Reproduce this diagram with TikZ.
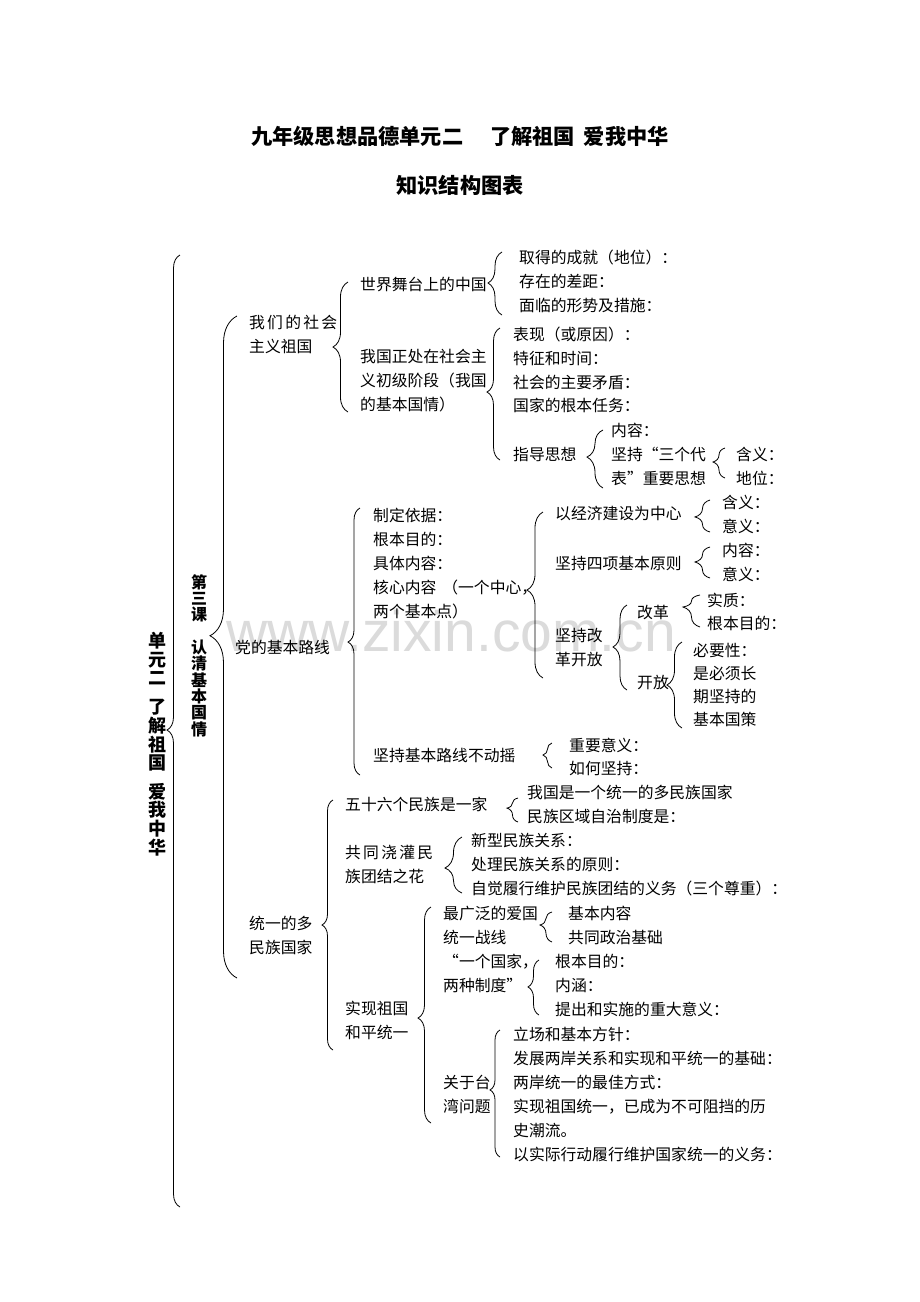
\documentclass[tikz,border=0pt]{standalone}
\usepackage{fontspec}
\setmainfont{Noto Sans CJK SC}
\newfontfamily\wmfont{Liberation Sans}
\usetikzlibrary{decorations.pathreplacing}
\tikzset{
  t/.style={anchor=west, inner sep=0pt, align=left, font=\fontsize{15.8}{24}\selectfont},
  ttl/.style={anchor=center, inner sep=0pt, font=\bfseries\fontsize{21.2}{24}\selectfont},
  vt/.style={anchor=center, inner sep=0pt, align=center, font=\bfseries\fontsize{18}{18.6}\selectfont},
  vtb/.style={anchor=center, inner sep=0pt, align=center, font=\bfseries\fontsize{16}{16.4}\selectfont},
  br/.style={decorate, line width=0.8pt},
  wm/.style={anchor=base, inner sep=0pt, text=black!14, font=\wmfont\fontsize{57}{60}\selectfont}
}
% xend, ytop, ybottom, amplitude, aspect (from bottom)
\newcommand\brc[5]{\draw[br, decoration={brace, amplitude=#4pt, aspect=#5}] (#1,#3) -- (#1,#2);}
\newcommand\oq{\makebox[1em][r]{“}}
\newcommand\cq{\makebox[1em][l]{”}}
\begin{document}
\begin{tikzpicture}[x=1pt,y=-1pt]
\fill[white] (0,0) rectangle (920,1302);
\useasboundingbox (0,0) rectangle (920,1302);

% watermark
\node[wm] (wmk) at (451,651) {www.zixin.com.cn};

% titles
\node[ttl] (t1) at (460,136) {九年级思想品德单元二\hspace{27pt}了解祖国\hspace{9pt}爱我中华};
\node[ttl] (t2) at (460,185) {知识结构图表};

% vertical titles
\node[vt] (v1) at (157,744) {单\\元\\二\\[10.5pt]了\\解\\祖\\国\\[10pt]爱\\我\\中\\华};
\node[vtb] (v2) at (199,655.5) {第\\三\\课\\[16pt]认\\清\\基\\本\\国\\情};

% braces
\brc{180}{255}{1207}{13}{0.501}
\brc{237}{316}{978}{27}{0.517}
\brc{348}{282}{412}{15}{0.5}
\brc{502}{252}{315}{14}{0.508}
\brc{500}{328}{460}{13}{0.515}
\brc{603}{430}{488}{16}{0.534}
\brc{725}{448}{478}{12}{0.533}
\brc{360}{508}{775}{12}{0.498}
\brc{543}{512}{678}{16}{0.53}
\brc{710}{500}{532}{15}{0.47}
\brc{710}{547}{578}{15}{0.516}
\brc{627}{605}{690}{14}{0.506}
\brc{700}{595}{627}{17}{0.625}
\brc{682}{642}{728}{15}{0.5}
\brc{552}{743}{768}{9}{0.52}
\brc{333}{800}{1050}{11}{0.5}
\brc{518}{798}{822}{11}{0.58}
\brc{462}{837}{893}{17}{0.446}
\brc{431}{907}{1123}{13}{0.486}
\brc{552}{912}{942}{12}{0.567}
\brc{539}{960}{1015}{11}{0.51}
\brc{500}{1030}{1157}{10}{0.528}

% section A
\node[t] (a0) at (249,334) {\makebox[88pt][s]{我\hfill 们\hfill 的\hfill 社\hfill 会}\\主义祖国};
\node[t] (a1) at (360,285) {世界舞台上的中国};
\node[t] (a11) at (519,257) {取得的成就（地位）：};
\node[t] (a12) at (519,281) {存在的差距：};
\node[t] (a13) at (519,305) {面临的形势及措施：};
\node[t] (a2) at (360,381) {我国正处在社会主\\义初级阶段（我国\\的基本国情）};
\node[t] (a21) at (513,334) {表现（或原因）：};
\node[t] (a22) at (513,358) {特征和时间：};
\node[t] (a23) at (513,382) {社会的主要矛盾：};
\node[t] (a24) at (513,405) {国家的根本任务：};
\node[t] (a25) at (513,454) {指导思想};
\node[t] (a31) at (611,430) {内容：};
\node[t] (a32) at (611,466) {坚持\oq 三个代\\表\cq 重要思想};
\node[t] (a41) at (736,454) {含义：};
\node[t] (a42) at (736,478) {地位：};

% section B
\node[t] (b0) at (235,647) {党的基本路线};
\node[t] (b1) at (373,515) {制定依据：};
\node[t] (b2) at (373,539) {根本目的：};
\node[t] (b3) at (373,563) {具体内容：};
\node[t] (b4) at (373,599) {核心内容\hspace{6pt}（一个中心，\\两个基本点）};
\node[t] (b5) at (373,755) {坚持基本路线不动摇};
\node[t] (b11) at (555,514) {以经济建设为中心};
\node[t] (b12) at (555,563) {坚持四项基本原则};
\node[t] (b13) at (555,647.5) {坚持改\\革开放};
\node[t] (b21) at (722,502) {含义：};
\node[t] (b22) at (722,526) {意义：};
\node[t] (b31) at (722,550) {内容：};
\node[t] (b32) at (722,574) {意义：};
\node[t] (b41) at (637,613) {改革};
\node[t] (b42) at (637,683) {开放};
\node[t] (b51) at (707,600) {实质：};
\node[t] (b52) at (707,623) {根本目的：};
\node[t, font=\fontsize{15.8}{23.3}\selectfont] (b61) at (693,685) {必要性：\\是必须长\\期坚持的\\基本国策};
\node[t] (b71) at (569,745) {重要意义：};
\node[t] (b72) at (569,768) {如何坚持：};

% section C
\node[t] (c0) at (249,935.5) {统一的多\\民族国家};
\node[t] (c1) at (345,804) {五十六个民族是一家};
\node[t] (c2) at (345,864) {\makebox[88pt][s]{共\hfill 同\hfill 浇\hfill 灌\hfill 民}\\族团结之花};
\node[t] (c3) at (345,1020) {实现祖国\\和平统一};
\node[t] (c11) at (527,792) {我国是一个统一的多民族国家};
\node[t] (c12) at (527,816) {民族区域自治制度是：};
\node[t] (c21) at (471,840) {新型民族关系：};
\node[t] (c22) at (471,864) {处理民族关系的原则：};
\node[t] (c23) at (471,888) {自觉履行维护民族团结的义务（三个尊重）：};
\node[t] (c31) at (443,925) {最广泛的爱国\\统一战线};
\node[t] (c32) at (443,973) {\oq 一个国家，\\两种制度\cq};
\node[t] (c41) at (568,913) {基本内容};
\node[t] (c42) at (568,937) {共同政治基础};
\node[t] (c51) at (555,961) {根本目的：};
\node[t] (c52) at (555,985) {内涵：};
\node[t] (c53) at (555,1009) {提出和实施的重大意义：};
\node[t] (c61) at (443,1094) {关于台\\湾问题};
\node[t] (c62) at (513,1034) {立场和基本方针：};
\node[t] (c63) at (513,1058) {发展两岸关系和实现和平统一的基础：};
\node[t] (c64) at (513,1082) {两岸统一的最佳方式：};
\node[t] (c65) at (513,1118) {实现祖国统一，已成为不可阻挡的历\\史潮流。};
\node[t] (c66) at (513,1154) {以实际行动履行维护国家统一的义务：};
\end{tikzpicture}
\end{document}
